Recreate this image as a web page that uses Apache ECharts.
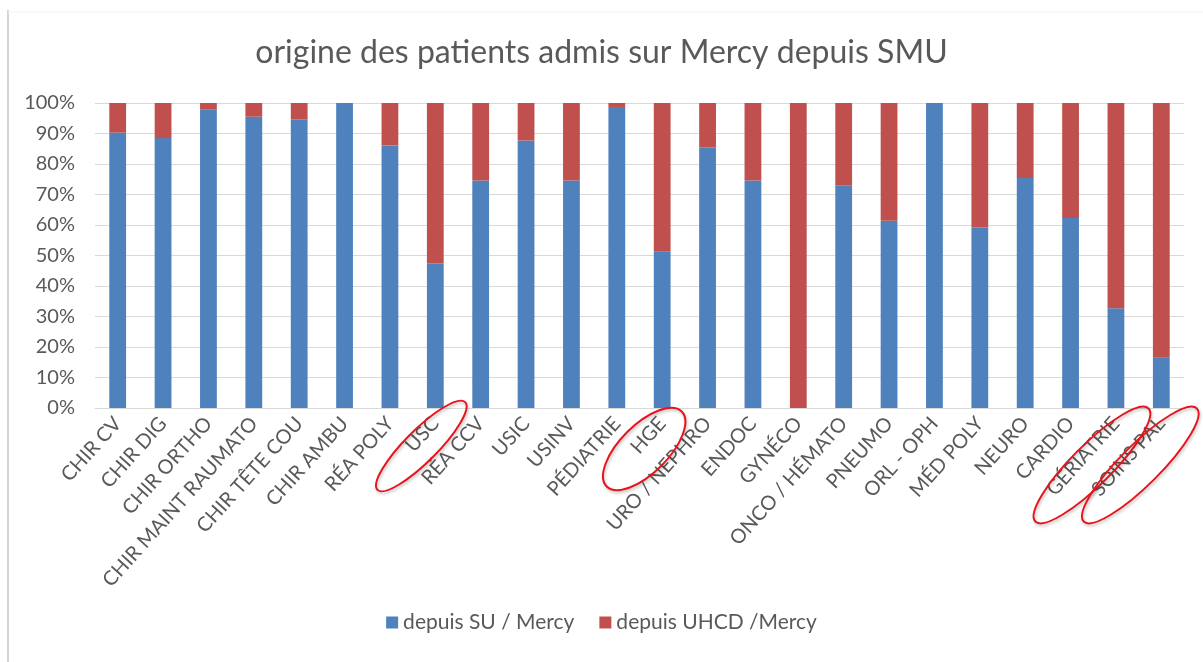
<!DOCTYPE html>
<html>
<head>
<meta charset="utf-8">
<script src="https://cdn.jsdelivr.net/npm/echarts@6/dist/echarts.min.js"></script>
<style>
  html, body { margin: 0; padding: 0; background: #fff; }
  #main { width: 1203px; height: 662px; }
</style>
</head>
<body>
<div id="main"></div>
<script>
// services (catégories)
var categories = ['CHIR CV', 'CHIR DIG', 'CHIR ORTHO', 'CHIR MAINT RAUMATO', 'CHIR TÊTE COU',
  'CHIR AMBU', 'RÉA POLY', 'USC', 'RÉA CCV', 'USIC', 'USINV', 'PÉDIATRIE', 'HGE',
  'URO / NEPHRO', 'ENDOC', 'GYNÉCO', 'ONCO / HÉMATO', 'PNEUMO', 'ORL - OPH',
  'MÉD POLY', 'NEURO', 'CARDIO', 'GÉRIATRIE', 'SOINS PAL'];
// % depuis SU / Mercy
var depuisSU = [90.3, 88.5, 97.8, 95.5, 94.7, 100, 86.1, 47.4, 74.6, 87.7, 74.6, 98.7, 51.2,
  85.4, 74.6, 0, 73.0, 61.4, 100, 59.2, 75.4, 62.3, 32.7, 16.5];
// % depuis UHCD / Mercy
var depuisUHCD = [9.7, 11.5, 2.2, 4.5, 5.3, 0, 13.9, 52.6, 25.4, 12.3, 25.4, 1.3, 48.8,
  14.6, 25.4, 100, 27.0, 38.6, 0, 40.8, 24.6, 37.7, 67.3, 83.5];
// services entourés en rouge
var circled = ['USC', 'HGE', 'GÉRIATRIE', 'SOINS PAL'];

var font = 'Lato';
var dom = echarts.init(document.getElementById('main'));
dom.setOption({
  animation: false,
  title: {
    text: 'origine des patients admis sur Mercy depuis SMU',
    left: 'center',
    top: 32,
    textStyle: { fontFamily: font, fontSize: 32, fontWeight: 'normal', color: '#595959' }
  },
  legend: {
    bottom: 24,
    left: 'center',
    itemWidth: 12,
    itemHeight: 12,
    itemGap: 25,
    itemStyle: { borderWidth: 0 },
    icon: 'rect',
    textStyle: { fontFamily: font, fontSize: 21, color: '#595959' },
    data: ['depuis SU / Mercy', 'depuis UHCD /Mercy']
  },
  grid: { left: 95, right: 19, top: 103, bottom: 254, outerBoundsMode: 'none' },
  xAxis: {
    type: 'category',
    data: categories,
    axisTick: { show: false },
    axisLine: { lineStyle: { color: '#d9d9d9', width: 1 } },
    axisLabel: {
      interval: 0,
      rotate: 48,
      margin: 12,
      fontFamily: font,
      fontSize: 20,
      color: '#595959'
    }
  },
  yAxis: {
    type: 'value',
    min: 0,
    max: 100,
    interval: 10,
    axisLine: { show: false },
    axisTick: { show: false },
    splitLine: { lineStyle: { color: '#d9d9d9', width: 1 } },
    axisLabel: {
      formatter: '{value}%',
      margin: 20,
      fontFamily: font,
      fontSize: 20,
      color: '#595959'
    }
  },
  series: [
    {
      name: 'depuis SU / Mercy',
      type: 'bar',
      stack: 'total',
      barWidth: '37%',
      itemStyle: { color: '#4f81bd' },
      data: depuisSU
    },
    {
      name: 'depuis UHCD /Mercy',
      type: 'bar',
      stack: 'total',
      barWidth: '37%',
      itemStyle: { color: '#c0504d' },
      data: depuisUHCD
    }
  ]
});

// cadre + ellipses rouges autour des libellés
var graphics = [
  { type: 'line', shape: { x1: 8, y1: 10, x2: 8, y2: 662 }, style: { stroke: '#d4d4d4', lineWidth: 2 } },
  { type: 'line', shape: { x1: 8, y1: 12, x2: 1203, y2: 12 }, style: { stroke: '#f2f2f2', lineWidth: 1 } }
];
var ellSize = { 'USC': [62, 16], 'HGE': [53, 24], 'GÉRIATRIE': [80, 20], 'SOINS PAL': [80, 20] };
var ellOff = { 'USC': [-14, 38], 'HGE': [-18, 41], 'GÉRIATRIE': [-24, 57], 'SOINS PAL': [-21, 57] };
circled.forEach(function (name) {
  var p = dom.convertToPixel({ gridIndex: 0 }, [name, 0]);
  graphics.push({
    type: 'ellipse',
    x: p[0] + ellOff[name][0],
    y: p[1] + ellOff[name][1],
    rotation: Math.PI / 4,
    shape: { cx: 0, cy: 0, rx: ellSize[name][0], ry: ellSize[name][1] },
    style: {
      fill: null,
      stroke: '#e8141b',
      lineWidth: 2,
      shadowBlur: 3,
      shadowColor: 'rgba(0,0,0,0.25)',
      shadowOffsetX: 1,
      shadowOffsetY: 2
    },
    z: 100
  });
});
dom.setOption({ graphic: graphics });
</script>
</body>
</html>
